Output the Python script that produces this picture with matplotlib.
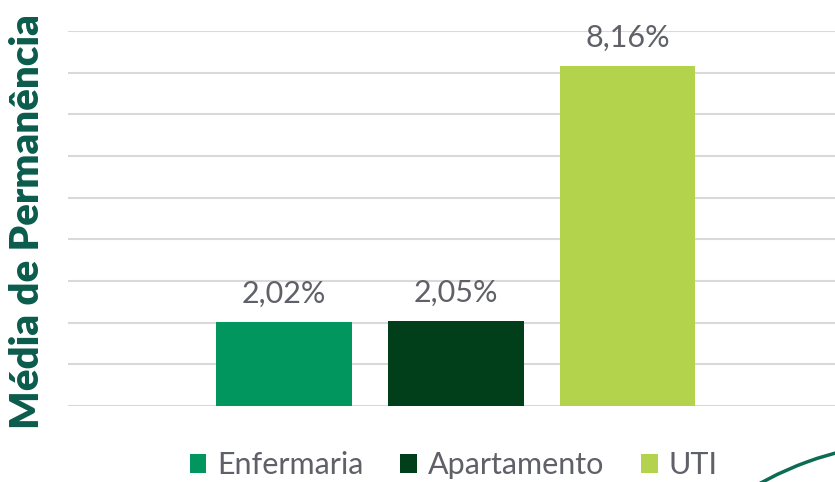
import matplotlib.pyplot as plt
from matplotlib.patches import Arc

categories = ['Enfermaria', 'Apartamento', 'UTI']
values = [2.02, 2.05, 8.16]
labels = ['2,02%', '2,05%', '8,16%']
colors = ['#00965E', '#003F1A', '#B2D34B']

plt.rcParams['font.family'] = ['Lato', 'DejaVu Sans']

fig = plt.figure(figsize=(8.35, 4.82), dpi=100)
ax = fig.add_axes([68 / 835, 76 / 482, 767 / 835, 375 / 482])

x = range(len(categories))
bars = ax.bar(x, values, width=0.79, color=colors, label=categories, zorder=2)

for b, lab in zip(bars, labels):
    ax.text(b.get_x() + b.get_width() / 2, b.get_height() + 0.33, lab,
            ha='center', va='bottom', fontsize=22, color='#5F6068',
            clip_on=False)

ax.set_ylim(0, 9)
ax.set_xlim(-1.26, 3.21)
ax.set_yticks(range(0, 10))
ax.yaxis.grid(True, color='#D9D9D9', linewidth=1.5, zorder=0)
ax.tick_params(left=False, bottom=False, labelleft=False, labelbottom=False)
for s in ax.spines.values():
    s.set_visible(False)

fig.text(0.033, 0.54, 'Média de Permanência', rotation=90, ha='center', va='center',
         fontsize=29, fontweight='heavy', color='#0B5C4C')

leg = fig.legend(handles=bars, labels=categories, loc='center', bbox_to_anchor=(0.543, 0.035),
                 ncol=3, frameon=False, fontsize=22, handlelength=0.55, handleheight=0.55,
                 handletextpad=0.35, columnspacing=1.2, labelcolor='#5F6068')

# decorative curve, bottom right corner
arc = Arc((9.2, -2.9), 6.6, 6.6, angle=0, theta1=95, theta2=125,
          transform=fig.dpi_scale_trans, color='#0B6B55', linewidth=2.5)
fig.add_artist(arc)

fig.savefig('out.png', dpi=100)
